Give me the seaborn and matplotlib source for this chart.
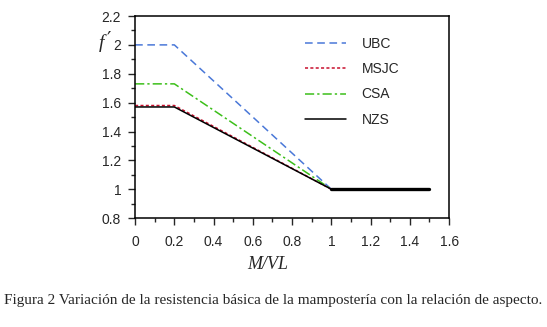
import matplotlib
matplotlib.use("Agg")
import matplotlib.pyplot as plt
import matplotlib.ticker as mticker
import pandas as pd
import seaborn as sns

# M/VL breakpoints and f' values
mvl = [0.0, 0.2, 1.0, 1.5]
ubc = [2.0, 2.0, 1.0, 1.0]
msjc = [1.58, 1.58, 1.0, 1.0]
csa = [1.73, 1.73, 1.0, 1.0]
nzs = [1.57, 1.57, 1.0, 1.0]

labels = ["UBC", "MSJC", "CSA", "NZS"]
colors = ["#4a78d8", "#c8102e", "#3cbf1a", "black"]
styles = [(0, (5, 3)), (0, (2, 1.5)), (0, (6, 2, 1.5, 2)), "-"]

df = pd.DataFrame({"M/VL": mvl, "UBC": ubc, "MSJC": msjc, "CSA": csa, "NZS": nzs})

sns.set_style("ticks")
plt.rcParams["font.family"] = ["Liberation Sans", "DejaVu Sans"]

fig = plt.figure(figsize=(5.47, 3.27), dpi=100)
ax = fig.add_axes([0.247, 0.333, 0.574, 0.618])

for lab, c, ls in zip(labels, colors, styles):
    sns.lineplot(data=df, x="M/VL", y=lab, ax=ax, color=c, linestyle=ls,
                 linewidth=1.1, label=lab)
# the flat tail is drawn heavier in the original
tail = df[df["M/VL"] >= 1.0]
sns.lineplot(data=tail, x="M/VL", y="NZS", ax=ax, color="black", linewidth=2.4)

ax.set_xlim(0, 1.6)
ax.set_ylim(0.8, 2.2)
ax.xaxis.set_major_locator(mticker.MultipleLocator(0.2))
ax.xaxis.set_minor_locator(mticker.MultipleLocator(0.1))
ax.yaxis.set_major_locator(mticker.MultipleLocator(0.2))
ax.yaxis.set_minor_locator(mticker.MultipleLocator(0.1))
fmt = mticker.FuncFormatter(lambda v, p: "%g" % round(v, 2))
ax.xaxis.set_major_formatter(fmt)
ax.yaxis.set_major_formatter(fmt)
ax.tick_params(which="major", length=5, width=1, labelsize=10, direction="out")
ax.tick_params(axis="x", which="major", pad=7)
ax.tick_params(axis="y", which="major", pad=5)
ax.tick_params(which="minor", length=3, width=1, direction="out")
for s in ax.spines.values():
    s.set_linewidth(1.1)
    s.set_color("black")

ax.set_xlabel("")
ax.set_ylabel("")
fig.text(0.186, 0.868, "f", fontsize=14, family="Liberation Serif",
         style="italic", ha="center", va="center")
fig.text(0.199, 0.882, "\u2032", fontsize=14, family="DejaVu Sans",
         ha="center", va="center")
fig.text(0.49, 0.19, "M/VL", fontsize=13, family="Liberation Serif",
         style="italic", ha="center", va="center")

leg = ax.legend(loc="upper left", bbox_to_anchor=(0.5, 0.96), frameon=False,
                handlelength=3.0, labelspacing=0.82, fontsize=10,
                handletextpad=1.1)

fig.text(0.5, 0.082,
         "Figura 2 Variación de la resistencia básica de la mampostería con la relación de aspecto.",
         ha="center", va="center", fontsize=11, family="Liberation Serif")

fig.savefig("out.png", dpi=100)
